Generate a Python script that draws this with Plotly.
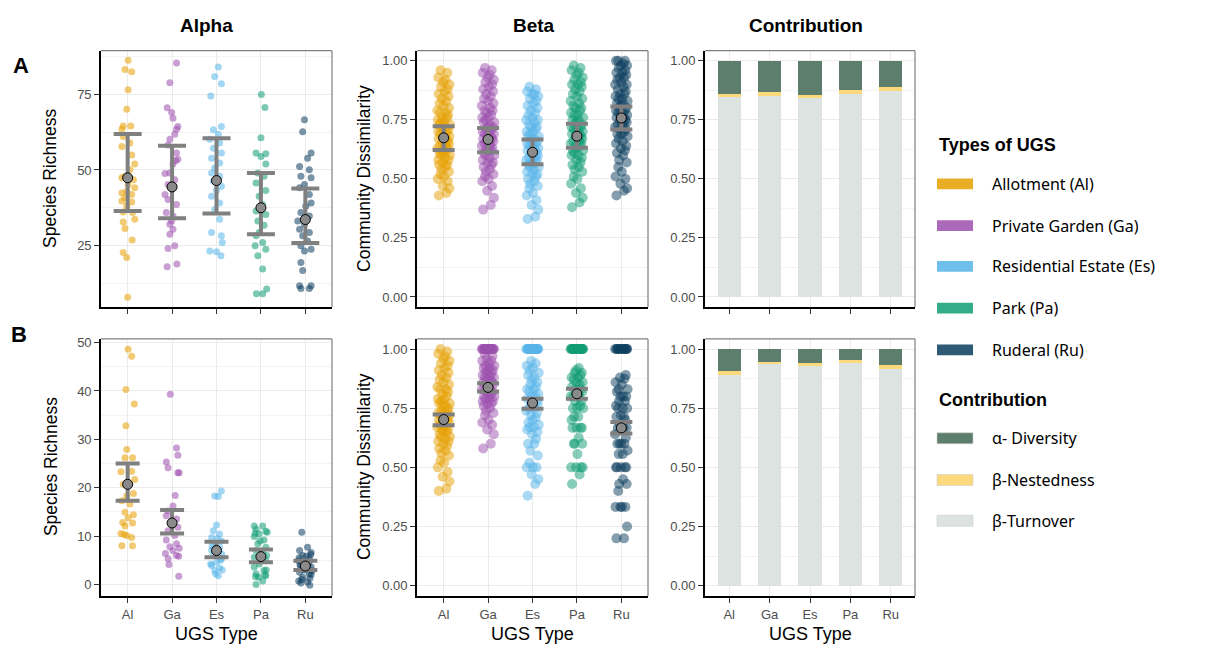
import plotly.graph_objects as go

# ---------------- data ----------------
CATS = ["Al", "Ga", "Es", "Pa", "Ru"]
UGS_NAMES = ["Allotment (Al)", "Private Garden (Ga)", "Residential Estate (Es)", "Park (Pa)", "Ruderal (Ru)"]
UGS_COLORS = ["#E69F00", "#9C4FAE", "#56B4E9", "#109C74", "#0B3D5E"]

# Row A - alpha (species richness per site) and jitter offsets
alphaA_vals = {
    "Al": [86.3, 83.3, 82.5, 76.6, 70.1, 64.6, 64.6, 63.5, 61.1, 58.9, 57.8, 55.0, 52.0, 50.1, 47.9, 47.4, 46.8, 45.2,
           44.1, 43.0, 42.4, 41.9, 40.8, 39.7, 39.4, 38.0, 36.1, 35.9, 33.7, 32.8, 30.6, 26.8, 22.7, 21.0, 7.9],
    "Ga": [85.4, 78.9, 70.6, 69.0, 67.1, 64.4, 63.5, 61.8, 60.2, 58.3, 55.6, 53.6, 53.1, 52.0, 49.0, 48.8, 46.8, 45.2,
           41.9, 40.2, 38.6, 35.9, 34.8, 33.1, 32.0, 30.4, 28.7, 24.9, 24.0, 18.9, 18.0],
    "Es": [84.1, 81.0, 78.6, 74.5, 64.4, 63.3, 61.8, 60.2, 58.9, 57.2, 55.6, 53.9, 52.3, 50.7, 49.0, 47.9, 46.3, 44.6,
           43.3, 41.3, 39.1, 36.9, 33.7, 29.3, 28.2, 26.0, 23.2, 22.9, 21.6],
    "Pa": [75.0, 70.7, 60.7, 55.6, 55.4, 54.5, 52.0, 49.0, 47.9, 45.7, 43.2, 41.3, 38.6, 36.4, 35.3, 33.1, 31.7, 29.3,
           28.2, 26.0, 24.9, 23.8, 21.6, 17.2, 9.0, 9.0, 10.6],
    "Ru": [66.6, 62.7, 55.6, 53.9, 51.2, 50.1, 47.9, 47.4, 45.2, 44.1, 41.9, 39.1, 38.0, 35.9, 34.8, 33.1, 32.0, 30.4,
           29.3, 28.2, 26.5, 24.9, 23.8, 23.2, 19.4, 16.7, 11.7, 11.7, 10.8, 10.8],
}
alphaA_jit = {
    "Al": [0.01, -0.06, 0.09, 0.01, -0.02, -0.10, 0.07, -0.13, -0.10, 0.05, -0.13, 0.09, 0.16, 0.05, -0.06, -0.13, 0.13,
           0.01, 0.16, -0.02, -0.13, 0.09, -0.06, -0.13, 0.09, -0.02, -0.10, 0.11, 0.16, -0.10, -0.06, 0.10, -0.10, -0.02, 0.00],
    "Ga": [0.10, -0.05, -0.11, -0.01, 0.02, 0.13, 0.10, 0.06, -0.05, -0.09, 0.10, 0.13, 0.08, 0.02, -0.05, -0.16, 0.06,
           -0.09, -0.16, -0.09, 0.10, -0.13, 0.02, -0.01, -0.05, 0.02, -0.05, 0.06, -0.09, 0.11, -0.11],
    "Es": [0.04, -0.04, 0.11, -0.13, 0.11, -0.07, 0.04, -0.15, 0.07, -0.07, 0.11, -0.11, 0.07, -0.04, -0.11, 0.07, -0.07,
           0.11, 0.00, -0.11, 0.07, -0.04, 0.07, -0.11, 0.11, 0.13, -0.15, 0.00, 0.10],
    "Pa": [0.01, 0.09, 0.00, -0.11, 0.11, 0.00, 0.11, -0.07, 0.07, -0.11, 0.11, -0.04, 0.04, -0.11, 0.11, -0.07, 0.07,
           -0.04, -0.11, 0.04, -0.13, 0.11, -0.07, 0.04, -0.10, 0.04, 0.13],
    "Ru": [-0.02, -0.06, 0.13, 0.05, -0.13, 0.09, -0.10, 0.13, -0.02, -0.13, 0.09, 0.13, 0.01, -0.10, 0.09, -0.17, -0.02,
           -0.13, 0.09, -0.06, 0.05, -0.10, 0.13, -0.02, -0.10, -0.06, -0.13, 0.13, -0.10, 0.09],
}
alphaA_mean = [47.4, 44.4, 46.5, 37.5, 33.6]
alphaA_upper = [61.9, 58.0, 60.5, 49.0, 43.9]
alphaA_lower = [36.4, 34.0, 35.6, 28.7, 25.8]

# Row B - alpha
alphaB_vals = {
    "Al": [48.6, 47.2, 40.3, 37.3, 32.8, 27.9, 26.2, 26.2, 23.3, 23.4, 21.7, 20.7, 18.8, 18.3, 17.3, 16.6, 14.9, 14.4,
           13.8, 12.8, 12.7, 12.1, 10.5, 10.1, 10.3, 9.7, 8.0, 8.0],
    "Ga": [39.3, 28.2, 26.7, 25.3, 24.1, 23.1, 23.1, 18.4, 16.2, 15.2, 14.2, 13.5, 12.7, 11.8, 11.1, 10.1, 9.2, 8.4,
           7.8, 7.5, 7.0, 6.4, 6.0, 5.3, 5.8, 4.1, 1.7],
    "Es": [19.3, 18.3, 18.2, 12.3, 11.1, 10.4, 9.7, 9.0, 8.4, 7.7, 7.1, 6.6, 6.0, 5.3, 4.6, 3.9, 3.4, 2.9, 1.8,
           8.0, 5.0, 3.0, 4.2, 6.3, 2.2, 9.5],
    "Pa": [12.1, 12.1, 11.4, 11.0, 10.4, 9.9, 9.2, 8.4, 7.7, 7.0, 6.4, 5.6, 4.9, 4.2, 3.6, 2.9, 2.2, 1.8, 1.5, 0.0, 0.7,
           10.8, 10.6, 9.0, 5.0, 3.0, 1.6, 2.0, 6.0],
    "Ru": [10.8, 7.7, 7.0, 6.6, 6.0, 5.3, 4.9, 4.4, 3.9, 3.6, 3.0, 2.5, 2.2, 1.5, 0.7, 0.5, -0.2, 0.3,
           6.2, 5.5, 4.5, 3.2, 2.0, 1.0, 4.0, 5.8, 2.8, 1.2],
}
alphaB_jit = {
    "Al": [0.01, 0.09, -0.04, 0.15, -0.04, -0.02, 0.11, -0.06, -0.15, 0.09, 0.16, -0.10, 0.13, -0.02, -0.13, 0.05, -0.06,
           0.13, 0.01, -0.11, 0.11, -0.06, -0.15, -0.02, -0.08, 0.09, 0.11, -0.13],
    "Ga": [-0.04, 0.10, 0.13, -0.13, -0.09, 0.13, 0.16, 0.07, 0.02, -0.09, -0.13, 0.10, -0.01, 0.13, -0.09, 0.06, -0.13,
           0.10, -0.05, 0.16, 0.02, -0.15, 0.10, -0.09, 0.15, -0.07, 0.15],
    "Es": [0.11, -0.04, 0.04, 0.00, -0.07, 0.07, -0.11, 0.11, -0.04, 0.07, -0.11, 0.04, -0.07, 0.11, 0.00, -0.11, 0.07,
           -0.04, 0.04, -0.10, 0.09, 0.13, -0.13, 0.12, -0.02, 0.02],
    "Pa": [-0.15, 0.04, -0.11, 0.11, -0.04, -0.15, 0.07, -0.07, 0.11, -0.11, 0.04, -0.15, 0.11, -0.04, -0.15, 0.07, -0.11,
           0.11, -0.05, -0.11, 0.04, 0.14, -0.13, -0.02, 0.03, 0.12, -0.12, 0.09, 0.13],
    "Ru": [-0.08, 0.05, -0.13, 0.13, -0.06, 0.09, -0.15, 0.01, -0.10, 0.13, -0.02, -0.13, 0.09, -0.06, -0.15, 0.05, 0.10,
           -0.10, 0.12, -0.14, 0.08, -0.05, 0.13, -0.08, -0.12, 0.02, 0.15, 0.10],
}
alphaB_mean = [20.7, 12.7, 7.0, 5.75, 3.8]
alphaB_upper = [25.0, 15.4, 8.8, 7.2, 4.9]
alphaB_lower = [17.3, 10.5, 5.6, 4.6, 3.0]

# Beta (pairwise community dissimilarity) - jitter pattern shared by the clouds
beta_jit = [-0.11, 0.06, 0.13, -0.02, 0.09, -0.13, 0.01, -0.07, 0.12, -0.05, 0.04, -0.10, 0.08, -0.01, 0.11, -0.12,
            0.03, -0.06, 0.14, -0.09, 0.00, 0.07, -0.04, 0.10, -0.14, 0.05, -0.08, 0.02, 0.12, -0.03, 0.09, -0.11,
            0.06, -0.01, 0.13, -0.07, 0.03, -0.12, 0.08, -0.05, 0.11, -0.02, 0.04, -0.10, 0.14, -0.06, 0.01, -0.13,
            0.07, -0.03, 0.10, -0.08, 0.05, -0.14, 0.12, 0.00, -0.09, 0.06, -0.04, 0.11, -0.11, 0.02, 0.09, -0.06,
            0.13, -0.01, 0.04, -0.12, 0.08, -0.07]

betaA_vals = {
    "Al": [0.43, 0.44, 0.46, 0.47, 0.49, 0.50, 0.51, 0.52, 0.53, 0.54, 0.55, 0.56, 0.56, 0.57, 0.58, 0.58, 0.59, 0.60,
           0.60, 0.61, 0.61, 0.62, 0.62, 0.63, 0.63, 0.64, 0.64, 0.65, 0.65, 0.66, 0.66, 0.67, 0.67, 0.68, 0.68, 0.69,
           0.69, 0.70, 0.70, 0.71, 0.71, 0.72, 0.72, 0.73, 0.73, 0.74, 0.74, 0.75, 0.76, 0.76, 0.77, 0.78, 0.78, 0.79,
           0.80, 0.81, 0.82, 0.83, 0.84, 0.85, 0.86, 0.87, 0.88, 0.89, 0.90, 0.91, 0.92, 0.93, 0.95, 0.96],
    "Ga": [0.37, 0.39, 0.42, 0.45, 0.47, 0.49, 0.50, 0.51, 0.52, 0.53, 0.54, 0.55, 0.56, 0.57, 0.57, 0.58, 0.59, 0.60,
           0.60, 0.61, 0.62, 0.62, 0.63, 0.63, 0.64, 0.64, 0.65, 0.65, 0.66, 0.66, 0.67, 0.67, 0.68, 0.68, 0.69, 0.69,
           0.70, 0.70, 0.71, 0.71, 0.72, 0.72, 0.73, 0.74, 0.74, 0.75, 0.76, 0.76, 0.77, 0.78, 0.79, 0.79, 0.80, 0.81,
           0.82, 0.83, 0.84, 0.85, 0.86, 0.87, 0.88, 0.89, 0.90, 0.91, 0.92, 0.93, 0.94, 0.95, 0.96, 0.97],
    "Es": [0.33, 0.34, 0.37, 0.39, 0.41, 0.43, 0.44, 0.46, 0.47, 0.48, 0.49, 0.50, 0.51, 0.52, 0.52, 0.53, 0.54, 0.55,
           0.55, 0.56, 0.56, 0.57, 0.57, 0.58, 0.58, 0.59, 0.59, 0.60, 0.60, 0.61, 0.61, 0.62, 0.62, 0.63, 0.63, 0.64,
           0.64, 0.65, 0.65, 0.66, 0.66, 0.67, 0.67, 0.68, 0.68, 0.69, 0.70, 0.70, 0.71, 0.72, 0.72, 0.73, 0.74, 0.75,
           0.75, 0.76, 0.77, 0.78, 0.79, 0.80, 0.81, 0.82, 0.83, 0.84, 0.85, 0.86, 0.86, 0.87, 0.88, 0.89],
    "Pa": [0.38, 0.40, 0.42, 0.44, 0.46, 0.48, 0.50, 0.51, 0.53, 0.54, 0.55, 0.56, 0.57, 0.58, 0.59, 0.60, 0.60, 0.61,
           0.62, 0.62, 0.63, 0.64, 0.64, 0.65, 0.65, 0.66, 0.66, 0.67, 0.67, 0.68, 0.68, 0.69, 0.69, 0.70, 0.70, 0.71,
           0.71, 0.72, 0.72, 0.73, 0.73, 0.74, 0.75, 0.75, 0.76, 0.77, 0.77, 0.78, 0.79, 0.80, 0.80, 0.81, 0.82, 0.83,
           0.84, 0.85, 0.86, 0.87, 0.88, 0.89, 0.90, 0.90, 0.91, 0.92, 0.93, 0.94, 0.95, 0.96, 0.97, 0.98],
    "Ru": [0.43, 0.45, 0.46, 0.48, 0.50, 0.51, 0.53, 0.55, 0.57, 0.58, 0.60, 0.61, 0.62, 0.63, 0.64, 0.65, 0.66, 0.67,
           0.68, 0.69, 0.69, 0.70, 0.71, 0.71, 0.72, 0.73, 0.73, 0.74, 0.74, 0.75, 0.75, 0.76, 0.76, 0.77, 0.77, 0.78,
           0.78, 0.79, 0.79, 0.80, 0.80, 0.81, 0.82, 0.82, 0.83, 0.84, 0.84, 0.85, 0.86, 0.86, 0.87, 0.88, 0.89, 0.90,
           0.90, 0.91, 0.92, 0.93, 0.93, 0.94, 0.95, 0.95, 0.96, 0.97, 0.98, 0.98, 0.99, 1.00, 1.00, 1.00],
}
betaA_mean = [0.674, 0.667, 0.613, 0.681, 0.758]
betaA_upper = [0.723, 0.716, 0.667, 0.734, 0.807]
betaA_lower = [0.622, 0.613, 0.562, 0.632, 0.709]

betaB_vals = {
    "Al": [0.40, 0.41, 0.44, 0.46, 0.48, 0.50, 0.52, 0.53, 0.55, 0.56, 0.57, 0.58, 0.59, 0.60, 0.61, 0.61, 0.62, 0.63,
           0.63, 0.64, 0.65, 0.65, 0.66, 0.66, 0.67, 0.67, 0.68, 0.68, 0.69, 0.69, 0.70, 0.70, 0.71, 0.71, 0.72, 0.72,
           0.73, 0.73, 0.74, 0.74, 0.75, 0.76, 0.76, 0.77, 0.77, 0.78, 0.79, 0.79, 0.80, 0.81, 0.82, 0.83, 0.83, 0.84,
           0.85, 0.86, 0.87, 0.88, 0.89, 0.90, 0.91, 0.92, 0.93, 0.94, 0.95, 0.96, 0.97, 0.98, 0.99, 1.00],
    "Ga": [0.58, 0.60, 0.64, 0.66, 0.68, 0.69, 0.70, 0.72, 0.73, 0.74, 0.75, 0.76, 0.77, 0.77, 0.78, 0.78, 0.79, 0.79,
           0.80, 0.80, 0.81, 0.81, 0.82, 0.82, 0.83, 0.83, 0.84, 0.84, 0.85, 0.85, 0.86, 0.86, 0.87, 0.87, 0.88, 0.88,
           0.89, 0.89, 0.90, 0.90, 0.91, 0.91, 0.92, 0.92, 0.93, 0.93, 0.94, 0.95, 0.95, 0.96, 0.97, 0.98,
           1.00, 1.00, 1.00, 1.00, 1.00, 1.00, 1.00, 1.00, 1.00, 1.00, 1.00, 1.00, 1.00, 1.00, 1.00, 1.00, 1.00, 1.00],
    "Es": [0.38, 0.43, 0.45, 0.47, 0.50, 0.50, 0.50, 0.52, 0.55, 0.57, 0.60, 0.60, 0.62, 0.64, 0.65, 0.66, 0.67, 0.67,
           0.68, 0.69, 0.70, 0.71, 0.72, 0.73, 0.74, 0.75, 0.75, 0.76, 0.77, 0.77, 0.78, 0.79, 0.80, 0.80, 0.81, 0.82,
           0.83, 0.83, 0.84, 0.85, 0.86, 0.87, 0.88, 0.89, 0.90, 0.91, 0.92, 0.93, 0.94, 0.95,
           1.00, 1.00, 1.00, 1.00, 1.00, 1.00, 1.00, 1.00, 1.00, 1.00, 1.00, 1.00, 1.00, 1.00, 1.00, 1.00, 1.00, 1.00,
           1.00, 1.00],
    "Pa": [0.43, 0.47, 0.50, 0.50, 0.50, 0.50, 0.556, 0.60, 0.60, 0.60, 0.625, 0.667, 0.667, 0.667, 0.667, 0.70, 0.714,
           0.714, 0.75, 0.75, 0.75, 0.76, 0.78, 0.78, 0.80, 0.80, 0.80, 0.81, 0.82, 0.83, 0.83, 0.84, 0.85, 0.86, 0.86,
           0.87, 0.88, 0.88, 0.89, 0.90, 0.90, 0.91, 0.92,
           1.00, 1.00, 1.00, 1.00, 1.00, 1.00, 1.00, 1.00, 1.00, 1.00, 1.00, 1.00, 1.00, 1.00, 1.00, 1.00, 1.00, 1.00,
           1.00, 1.00, 1.00, 1.00],
    "Ru": [0.20, 0.20, 0.25, 0.333, 0.333, 0.333, 0.333, 0.40, 0.43, 0.43, 0.45, 0.50, 0.50, 0.50, 0.50, 0.50, 0.556,
           0.556, 0.571, 0.60, 0.60, 0.60, 0.60, 0.625, 0.64, 0.667, 0.667, 0.667, 0.667, 0.68, 0.70, 0.714, 0.714, 0.72,
           0.75, 0.75, 0.75, 0.76, 0.78, 0.78, 0.80, 0.80, 0.80, 0.82, 0.83, 0.83, 0.85, 0.86, 0.875, 0.88, 0.89,
           1.00, 1.00, 1.00, 1.00, 1.00, 1.00, 1.00, 1.00, 1.00, 1.00, 1.00, 1.00, 1.00, 1.00],
}
betaB_mean = [0.702, 0.838, 0.772, 0.811, 0.667]
betaB_upper = [0.723, 0.856, 0.790, 0.832, 0.692]
betaB_lower = [0.678, 0.821, 0.748, 0.790, 0.643]

# Contribution (stacked proportions)
CONTRIB_NAMES = ["\u03b1- Diversity", "\u03b2-Nestedness", "\u03b2-Turnover"]
CONTRIB_COLORS = ["#5E7E6D", "#FDD97E", "#DCE3E1"]
contA_turnover = [0.847, 0.853, 0.842, 0.860, 0.874]
contA_nested = [0.013, 0.017, 0.014, 0.017, 0.014]
contA_alpha = [0.140, 0.130, 0.144, 0.123, 0.112]
contB_turnover = [0.892, 0.937, 0.930, 0.943, 0.916]
contB_nested = [0.017, 0.010, 0.011, 0.009, 0.017]
contB_alpha = [0.091, 0.053, 0.059, 0.048, 0.067]

# ---------------- layout helpers ----------------
W, H = 1227, 645
FONT = "Liberation Sans, Arial, Helvetica, sans-serif"
TICK_FONT = dict(family=FONT, size=13, color="#4D4D4D")


def px_x(p):
    return p / W


def px_y(p):
    return 1 - p / H


COLS = [(101, 332), (417, 648), (705, 915)]
ROWS = [(47, 305), (337, 596)]

fig = go.Figure()


def ax_names(idx):
    return ("x" if idx == 1 else f"x{idx}"), ("y" if idx == 1 else f"y{idx}")


def add_points(idx, vals, jit, size, opacity):
    xa, ya = ax_names(idx)
    for i, c in enumerate(CATS):
        v = vals[c]
        j = jit[c] if isinstance(jit, dict) else [jit[k % len(jit)] for k in range(len(v))]
        fig.add_trace(go.Scatter(
            x=[i + 1 + o for o in j], y=v, mode="markers", xaxis=xa, yaxis=ya,
            marker=dict(color=UGS_COLORS[i], size=size, opacity=opacity, line=dict(width=0)),
            showlegend=False, hoverinfo="y"))


def add_means(idx, mean, up, lo, capw):
    xa, ya = ax_names(idx)
    fig.add_trace(go.Scatter(
        x=[1, 2, 3, 4, 5], y=mean, mode="markers", xaxis=xa, yaxis=ya,
        error_y=dict(type="data", symmetric=False,
                     array=[u - m for u, m in zip(up, mean)],
                     arrayminus=[m - l for m, l in zip(mean, lo)],
                     color="#808080", thickness=4, width=capw),
        marker=dict(color="#8A8A8A", size=10, line=dict(color="black", width=1)),
        showlegend=False, hoverinfo="y"))


def add_contrib(idx, turn, nest, alph):
    xa, ya = ax_names(idx)
    for vals, name, col in zip([turn, nest, alph], CONTRIB_NAMES[::-1], CONTRIB_COLORS[::-1]):
        fig.add_trace(go.Bar(x=[1, 2, 3, 4, 5], y=vals, width=0.58, name=name, xaxis=xa, yaxis=ya,
                             marker=dict(color=col, line=dict(width=0)), showlegend=False))


add_points(1, alphaA_vals, alphaA_jit, 7, 0.55)
add_means(1, alphaA_mean, alphaA_upper, alphaA_lower, 14)
add_points(2, betaA_vals, beta_jit, 10, 0.5)
add_means(2, betaA_mean, betaA_upper, betaA_lower, 11)
add_contrib(3, contA_turnover, contA_nested, contA_alpha)
add_points(4, alphaB_vals, alphaB_jit, 7, 0.55)
add_means(4, alphaB_mean, alphaB_upper, alphaB_lower, 12)
add_points(5, betaB_vals, beta_jit, 10, 0.5)
add_means(5, betaB_mean, betaB_upper, betaB_lower, 11)
add_contrib(6, contB_turnover, contB_nested, contB_alpha)

BETA_TICKS = [0, 0.25, 0.5, 0.75, 1.0]
BETA_TEXT = ["0.00", "0.25", "0.50", "0.75", "1.00"]
yspecs = {
    1: dict(range=[4.6, 89.5], tickvals=[25, 50, 75], ticktext=["25", "50", "75"], minor=12.5),
    2: dict(range=[-0.043, 1.043], tickvals=BETA_TICKS, ticktext=BETA_TEXT, minor=0.125),
    3: dict(range=[-0.043, 1.043], tickvals=BETA_TICKS, ticktext=BETA_TEXT, minor=0.125),
    4: dict(range=[-2.46, 50.76], tickvals=[0, 10, 20, 30, 40, 50],
            ticktext=["0", "10", "20", "30", "40", "50"], minor=5),
    5: dict(range=[-0.045, 1.043], tickvals=BETA_TICKS, ticktext=BETA_TEXT, minor=0.125),
    6: dict(range=[-0.045, 1.043], tickvals=BETA_TICKS, ticktext=BETA_TEXT, minor=0.125),
}

layout = dict(width=W, height=H, margin=dict(l=0, r=0, t=0, b=0), paper_bgcolor="white",
              plot_bgcolor="white", barmode="stack", showlegend=False,
              font=dict(family=FONT, color="black"))
shapes = []
annotations = []
for idx in range(1, 7):
    r = (idx - 1) // 3
    c = (idx - 1) % 3
    xa, ya = ax_names(idx)
    xk = "xaxis" if idx == 1 else f"xaxis{idx}"
    yk = "yaxis" if idx == 1 else f"yaxis{idx}"
    xd = [px_x(COLS[c][0]), px_x(COLS[c][1])]
    yd = [px_y(ROWS[r][1]), px_y(ROWS[r][0])]
    layout[xk] = dict(domain=xd, anchor=ya, range=[0.4, 5.6], tickvals=[1, 2, 3, 4, 5], ticktext=CATS,
                      showticklabels=(r == 1), ticks="outside", ticklen=5, tickwidth=1, tickcolor="#333333",
                      showline=True, linecolor="black", linewidth=1.6, showgrid=True, gridcolor="#EBEBEB",
                      gridwidth=1, zeroline=False, tickfont=TICK_FONT, fixedrange=True)
    ys = yspecs[idx]
    layout[yk] = dict(domain=yd, anchor=xa, range=ys["range"], tickvals=ys["tickvals"], ticktext=ys["ticktext"],
                      ticks="outside", ticklen=5, tickwidth=1, tickcolor="#333333", showline=True,
                      linecolor="black", linewidth=1.6, showgrid=True, gridcolor="#EBEBEB", gridwidth=1,
                      zeroline=False, tickfont=TICK_FONT, fixedrange=True,
                      minor=dict(dtick=ys["minor"], tick0=0, showgrid=True, gridcolor="#F3F3F3", gridwidth=0.6,
                                 ticks=""))
    # top / right panel border (grey, theme_bw style)
    shapes.append(dict(type="line", xref=f"{xa} domain", yref=f"{ya} domain", x0=0, x1=1, y0=1, y1=1,
                       line=dict(color="#7F7F7F", width=1.2)))
    shapes.append(dict(type="line", xref=f"{xa} domain", yref=f"{ya} domain", x0=1, x1=1, y0=0, y1=1,
                       line=dict(color="#7F7F7F", width=1.2)))

# column titles
for text, xc in [("Alpha", 206), ("Beta", 534), ("Contribution", 806)]:
    annotations.append(dict(text=f"<b>{text}</b>", x=px_x(xc), y=px_y(22), xref="paper", yref="paper",
                            showarrow=False, xanchor="center", yanchor="middle", font=dict(size=19, family=FONT)))
# row tags
annotations.append(dict(text="<b>A</b>", x=px_x(21), y=px_y(62), xref="paper", yref="paper", showarrow=False,
                        xanchor="center", yanchor="middle", font=dict(size=22, family=FONT)))
annotations.append(dict(text="<b>B</b>", x=px_x(19), y=px_y(333), xref="paper", yref="paper", showarrow=False,
                        xanchor="center", yanchor="middle", font=dict(size=22, family=FONT)))
# y axis titles
for text, xc, yc in [("Species Richness", 50, 176), ("Species Richness", 51, 466),
                     ("Community Dissimilarity", 364, 176), ("Community Dissimilarity", 364, 466)]:
    annotations.append(dict(text=text, x=px_x(xc), y=px_y(yc), xref="paper", yref="paper", showarrow=False,
                            textangle=-90, xanchor="center", yanchor="middle",
                            font=dict(size=17.5, family=FONT, color="black")))
# x axis titles
for xc in [216.5, 532.5, 810]:
    annotations.append(dict(text="UGS Type", x=px_x(xc), y=px_y(634), xref="paper", yref="paper",
                            showarrow=False, xanchor="center", yanchor="middle",
                            font=dict(size=18, family=FONT, color="black")))

# legends (drawn as key boxes + text)
LEG_FONT = dict(size=16, family="Noto Sans, Liberation Sans, sans-serif", color="black")
annotations.append(dict(text="<b>Types of UGS</b>", x=px_x(937), y=px_y(142), xref="paper", yref="paper",
                        showarrow=False, xanchor="left", yanchor="middle", font=dict(size=18, family=FONT)))
for name, col, yc in zip(UGS_NAMES, UGS_COLORS, [181, 223, 264, 306, 348]):
    shapes.append(dict(type="rect", xref="paper", yref="paper", x0=px_x(937), x1=px_x(973),
                       y0=px_y(yc + 5.5), y1=px_y(yc - 5.5), fillcolor=col, opacity=0.85,
                       line=dict(width=0)))
    annotations.append(dict(text=name, x=px_x(990), y=px_y(yc), xref="paper", yref="paper", showarrow=False,
                            xanchor="left", yanchor="middle", font=LEG_FONT))
annotations.append(dict(text="<b>Contribution</b>", x=px_x(937), y=px_y(398), xref="paper", yref="paper",
                        showarrow=False, xanchor="left", yanchor="middle", font=dict(size=18, family=FONT)))
for name, col, yc in zip(CONTRIB_NAMES, CONTRIB_COLORS, [437, 479, 520]):
    shapes.append(dict(type="rect", xref="paper", yref="paper", x0=px_x(937), x1=px_x(973),
                       y0=px_y(yc + 5.5), y1=px_y(yc - 5.5), fillcolor=col,
                       line=dict(width=0.6, color="#CCCCCC")))
    annotations.append(dict(text=name, x=px_x(990), y=px_y(yc), xref="paper", yref="paper", showarrow=False,
                            xanchor="left", yanchor="middle", font=LEG_FONT))

layout["shapes"] = shapes
layout["annotations"] = annotations
fig.update_layout(**layout)

fig.write_html("out.html", post_script="document.body.style.margin='0';",
               config={"displayModeBar": False})
